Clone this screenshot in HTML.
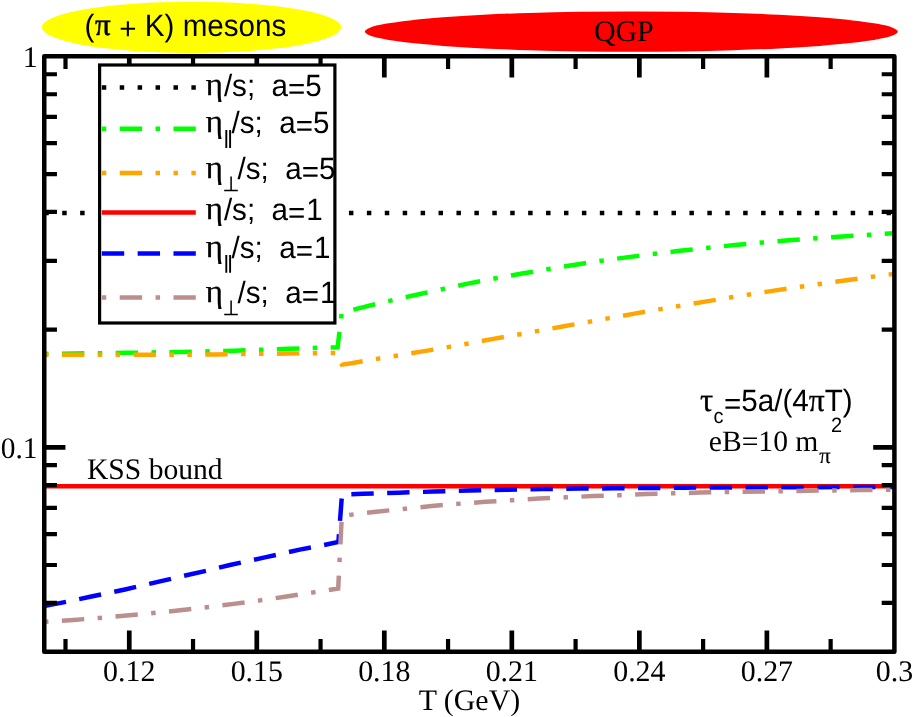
<!DOCTYPE html>
<html><head><meta charset="utf-8"><title>plot</title>
<style>html,body{margin:0;padding:0;background:#fff}svg{display:block;will-change:transform}text{fill:#000;text-rendering:geometricPrecision}</style></head>
<body>
<svg width="914" height="717" viewBox="0 0 914 717">
<rect x="0" y="0" width="914" height="717" fill="#fff"/>
<ellipse cx="191.5" cy="27.3" rx="149.6" ry="25.6" fill="#ffff00"/>
<ellipse cx="631.3" cy="31.6" rx="266.4" ry="20.2" fill="#ff0000"/>
<g fill="none" stroke-width="4.48" stroke-linecap="butt" stroke-linejoin="miter">
<polyline points="44.30,213.10 894.40,213.10" stroke="#000" stroke-dasharray="4.480,13.440"/>
<polyline points="44.00,353.90 73.00,353.50 127.00,352.80 180.00,352.00 234.00,350.70 288.00,348.80 337.60,347.20 341.80,312.60 364.50,306.80 390.50,300.60 416.70,294.70 443.40,288.90 469.00,283.40 495.70,278.30 522.30,273.50 548.80,269.00 575.30,264.70 601.80,260.70 628.30,257.10 655.00,253.70 681.80,250.60 708.40,247.70 735.30,245.00 761.80,242.60 788.80,240.30 815.30,238.30 842.20,236.50 869.00,234.80 894.40,233.20" stroke="#00ff00" stroke-dasharray="4.480,13.440,22.400,13.440"/>
<polyline points="44.00,354.80 190.00,354.80 216.00,354.40 288.00,353.50 337.60,352.95 341.90,364.60 351.50,363.20 378.60,358.60 396.10,355.80 422.70,351.40 449.20,346.90 467.00,343.80 493.20,338.90 519.50,334.30 537.40,331.10 563.70,326.30 590.10,321.60 607.80,318.40 634.60,313.60 660.60,309.10 678.50,306.10 705.00,301.60 731.30,297.30 749.20,294.50 775.60,290.40 802.10,286.50 820.00,284.00 846.60,280.20 873.40,276.60 894.40,273.90" stroke="#ffa500" stroke-dasharray="4.480,13.440,22.400,13.440,4.480,13.440"/>
<polyline points="44.00,486.20 894.40,486.20" stroke="#ff0000"/>
<polyline points="44.00,606.10 66.30,601.80 90.20,596.80 125.00,589.50 160.00,581.40 184.00,575.80 206.10,570.80 229.90,565.00 264.90,557.40 299.70,549.60 323.90,545.10 338.40,542.00 342.00,494.40 362.60,493.85 398.50,492.65 434.30,491.50 469.90,490.60 505.80,489.80 541.50,489.10 579.00,488.60 613.00,488.30 649.00,488.00 684.60,487.70 720.00,487.50 791.80,487.20 894.40,487.00" stroke="#0000ff" stroke-dasharray="22.400,13.440"/>
<polyline points="44.00,621.90 73.30,620.00 100.00,617.90 126.60,615.60 153.40,613.00 180.20,610.30 207.00,607.30 233.60,603.90 260.00,600.40 286.60,596.50 313.40,592.40 338.20,588.50 341.80,516.00 351.70,514.60 378.50,511.50 405.20,508.70 431.90,506.00 458.50,503.80 485.50,501.80 512.30,500.20 539.00,498.60 566.20,497.30 592.80,496.10 619.50,495.20 646.40,494.10 673.30,493.30 700.20,492.60 727.00,492.00 780.60,491.30 807.70,490.80 834.40,490.40 861.40,490.10 894.40,489.80" stroke="#bc8f8f" stroke-dasharray="4.480,13.440,22.400,13.440"/>
</g>
<g stroke="#000" fill="none" stroke-linecap="butt">
<path d="M65.50,651.75V639.05M65.50,56.35V69.05" stroke-width="4.2"/>
<path d="M129.26,651.75V630.55M129.26,56.35V77.55" stroke-width="4.7"/>
<path d="M193.03,651.75V639.05M193.03,56.35V69.05" stroke-width="4.2"/>
<path d="M256.79,651.75V630.55M256.79,56.35V77.55" stroke-width="4.7"/>
<path d="M320.55,651.75V639.05M320.55,56.35V69.05" stroke-width="4.2"/>
<path d="M384.31,651.75V630.55M384.31,56.35V77.55" stroke-width="4.7"/>
<path d="M448.07,651.75V639.05M448.07,56.35V69.05" stroke-width="4.2"/>
<path d="M511.83,651.75V630.55M511.83,56.35V77.55" stroke-width="4.7"/>
<path d="M575.59,651.75V639.05M575.59,56.35V69.05" stroke-width="4.2"/>
<path d="M639.35,651.75V630.55M639.35,56.35V77.55" stroke-width="4.7"/>
<path d="M703.12,651.75V639.05M703.12,56.35V69.05" stroke-width="4.2"/>
<path d="M766.88,651.75V630.55M766.88,56.35V77.55" stroke-width="4.7"/>
<path d="M830.64,651.75V639.05M830.64,56.35V69.05" stroke-width="4.2"/>
<path d="M44.25,447.32H65.45M894.4,447.32H873.20" stroke-width="4.7"/>
<path d="M44.25,74.24H56.95M894.4,74.24H881.70" stroke-width="4.2"/>
<path d="M44.25,94.24H56.95M894.4,94.24H881.70" stroke-width="4.2"/>
<path d="M44.25,116.91H56.95M894.4,116.91H881.70" stroke-width="4.2"/>
<path d="M44.25,143.09H56.95M894.4,143.09H881.70" stroke-width="4.2"/>
<path d="M44.25,174.04H56.95M894.4,174.04H881.70" stroke-width="4.2"/>
<path d="M44.25,211.93H56.95M894.4,211.93H881.70" stroke-width="4.2"/>
<path d="M44.25,260.78H56.95M894.4,260.78H881.70" stroke-width="4.2"/>
<path d="M44.25,329.63H56.95M894.4,329.63H881.70" stroke-width="4.2"/>
<path d="M44.25,465.21H56.95M894.4,465.21H881.70" stroke-width="4.2"/>
<path d="M44.25,485.21H56.95M894.4,485.21H881.70" stroke-width="4.2"/>
<path d="M44.25,507.88H56.95M894.4,507.88H881.70" stroke-width="4.2"/>
<path d="M44.25,534.06H56.95M894.4,534.06H881.70" stroke-width="4.2"/>
<path d="M44.25,565.01H56.95M894.4,565.01H881.70" stroke-width="4.2"/>
<path d="M44.25,602.90H56.95M894.4,602.90H881.70" stroke-width="4.2"/>
</g>
<rect x="44.25" y="56.35" width="850.15" height="595.40" fill="none" stroke="#000" stroke-width="4.5" stroke-linejoin="round"/>
<rect x="99.6" y="65.0" width="235.3" height="258.0" fill="#fff" stroke="#000" stroke-width="3.2"/>
<line x1="101.8" y1="87.6" x2="195.8" y2="87.6" stroke="#000" stroke-width="4.48" stroke-dasharray="4.480,13.440"/>
<line x1="101.8" y1="128.85" x2="195.8" y2="128.85" stroke="#00ff00" stroke-width="4.48" stroke-dasharray="4.480,13.440,22.400,13.440"/>
<line x1="101.8" y1="172.9" x2="195.8" y2="172.9" stroke="#ffa500" stroke-width="4.48" stroke-dasharray="4.480,13.440,22.400,13.440,4.480,13.440"/>
<line x1="101.8" y1="212.4" x2="195.8" y2="212.4" stroke="#ff0000" stroke-width="4.48"/>
<line x1="101.8" y1="253.5" x2="195.8" y2="253.5" stroke="#0000ff" stroke-width="4.48" stroke-dasharray="22.400,13.440"/>
<line x1="101.8" y1="297.5" x2="195.8" y2="297.5" stroke="#bc8f8f" stroke-width="4.48" stroke-dasharray="4.480,13.440,22.400,13.440"/>
<text transform="translate(205.60,94.70) scale(1.03,1)" font-family="Liberation Serif, serif" font-size="32.6" stroke="#000" stroke-width="0.25" xml:space="preserve">η</text><text transform="translate(223.90,95.60) scale(1,1.04)" font-family="Liberation Sans, sans-serif" font-size="29.6" xml:space="preserve">/s;  a<tspan dy="2.9">=</tspan><tspan dy="-2.9" dx="0">5</tspan></text>
<text transform="translate(205.60,132.40) scale(1.03,1)" font-family="Liberation Serif, serif" font-size="32.6" stroke="#000" stroke-width="0.25" xml:space="preserve">η</text><path d="M226.3,130.10V147.90M230.1,130.10V147.90" stroke="#000" stroke-width="1.9" fill="none"/><text transform="translate(231.60,133.30) scale(1,1.04)" font-family="Liberation Sans, sans-serif" font-size="29.6" xml:space="preserve">/s;  a<tspan dy="2.9">=</tspan><tspan dy="-2.9" dx="0">5</tspan></text>
<text transform="translate(205.60,177.60) scale(1.03,1)" font-family="Liberation Serif, serif" font-size="32.6" stroke="#000" stroke-width="0.25" xml:space="preserve">η</text><path d="M231.1,176.40V190.40M224.2,190.40H237.8" stroke="#000" stroke-width="1.5" fill="none"/><text transform="translate(237.60,178.50) scale(1,1.04)" font-family="Liberation Sans, sans-serif" font-size="29.6" xml:space="preserve">/s;  a<tspan dy="2.9">=</tspan><tspan dy="-2.9" dx="0">5</tspan></text>
<text transform="translate(205.60,219.00) scale(1.03,1)" font-family="Liberation Serif, serif" font-size="32.6" stroke="#000" stroke-width="0.25" xml:space="preserve">η</text><text transform="translate(223.90,219.90) scale(1,1.04)" font-family="Liberation Sans, sans-serif" font-size="29.6" xml:space="preserve">/s;  a<tspan dy="2.9">=</tspan><tspan dy="-2.9" dx="1.0">1</tspan></text>
<text transform="translate(205.60,257.20) scale(1.03,1)" font-family="Liberation Serif, serif" font-size="32.6" stroke="#000" stroke-width="0.25" xml:space="preserve">η</text><path d="M226.3,254.90V272.70M230.1,254.90V272.70" stroke="#000" stroke-width="1.9" fill="none"/><text transform="translate(231.60,258.10) scale(1,1.04)" font-family="Liberation Sans, sans-serif" font-size="29.6" xml:space="preserve">/s;  a<tspan dy="2.9">=</tspan><tspan dy="-2.9" dx="1.0">1</tspan></text>
<text transform="translate(205.60,301.60) scale(1.03,1)" font-family="Liberation Serif, serif" font-size="32.6" stroke="#000" stroke-width="0.25" xml:space="preserve">η</text><path d="M231.1,300.40V314.40M224.2,314.40H237.8" stroke="#000" stroke-width="1.5" fill="none"/><text transform="translate(237.60,302.50) scale(1,1.04)" font-family="Liberation Sans, sans-serif" font-size="29.6" xml:space="preserve">/s;  a<tspan dy="2.9">=</tspan><tspan dy="-2.9" dx="1.0">1</tspan></text>
<text transform="translate(84.50,35.70) scale(1,1.04)" font-family="Liberation Sans, sans-serif" font-size="29.6" xml:space="preserve">(</text>
<text transform="translate(95.00,35.30)" font-family="Liberation Serif, serif" font-size="31" stroke="#000" stroke-width="0.5" xml:space="preserve">π</text>
<text transform="translate(111.10,35.70) scale(1,1.04)" font-family="Liberation Sans, sans-serif" font-size="29.6" xml:space="preserve"> <tspan dy="3">+</tspan><tspan dy="-3"> K) mesons</tspan></text>
<text transform="translate(623.80,41.00)" font-family="Liberation Serif, serif" font-size="29.9" text-anchor="middle" xml:space="preserve">QGP</text>
<text transform="translate(87.00,478.60) scale(0.99,1.0)" font-family="Liberation Serif, serif" font-size="29.9" xml:space="preserve">KSS bound</text>
<text transform="translate(469.40,709.60)" font-family="Liberation Serif, serif" font-size="29.9" text-anchor="middle" xml:space="preserve">T (GeV)</text>
<text transform="translate(129.26,680.50)" font-family="Liberation Serif, serif" font-size="29.9" text-anchor="middle" xml:space="preserve">0.12</text>
<text transform="translate(256.79,680.50)" font-family="Liberation Serif, serif" font-size="29.9" text-anchor="middle" xml:space="preserve">0.15</text>
<text transform="translate(384.31,680.50)" font-family="Liberation Serif, serif" font-size="29.9" text-anchor="middle" xml:space="preserve">0.18</text>
<text transform="translate(511.83,680.50)" font-family="Liberation Serif, serif" font-size="29.9" text-anchor="middle" xml:space="preserve">0.21</text>
<text transform="translate(639.35,680.50)" font-family="Liberation Serif, serif" font-size="29.9" text-anchor="middle" xml:space="preserve">0.24</text>
<text transform="translate(766.88,680.50)" font-family="Liberation Serif, serif" font-size="29.9" text-anchor="middle" xml:space="preserve">0.27</text>
<text transform="translate(894.40,680.50)" font-family="Liberation Serif, serif" font-size="29.9" text-anchor="middle" xml:space="preserve">0.3</text>
<text transform="translate(37.60,67.30)" font-family="Liberation Serif, serif" font-size="29.9" text-anchor="end" xml:space="preserve">1</text>
<text transform="translate(37.60,457.70) scale(0.985,1.0)" font-family="Liberation Serif, serif" font-size="29.9" text-anchor="end" xml:space="preserve">0.1</text>
<text transform="translate(700.00,410.50)" font-family="Liberation Serif, serif" font-size="33" stroke="#000" stroke-width="0.3" xml:space="preserve">τ</text>
<text transform="translate(713.60,422.50) scale(1,1.04)" font-family="Liberation Sans, sans-serif" font-size="20" xml:space="preserve">c</text>
<text transform="translate(724.00,411.20) scale(1,1.04)" font-family="Liberation Sans, sans-serif" font-size="29.6" xml:space="preserve"><tspan dy="2.9">=</tspan><tspan dy="-2.9">5a/(4</tspan><tspan font-family="Liberation Serif, serif" font-size="31.5" stroke="#000" stroke-width="0.3">π</tspan>T)</text>
<text transform="translate(708.80,451.00)" font-family="Liberation Serif, serif" font-size="29.6" xml:space="preserve">eB=10 m</text>
<text transform="translate(819.30,462.60)" font-family="Liberation Serif, serif" font-size="22.5" stroke="#000" stroke-width="0.2" xml:space="preserve">π</text>
<text transform="translate(831.00,432.40) scale(1,1.04)" font-family="Liberation Sans, sans-serif" font-size="20" xml:space="preserve">2</text>
</svg>
</body></html>
